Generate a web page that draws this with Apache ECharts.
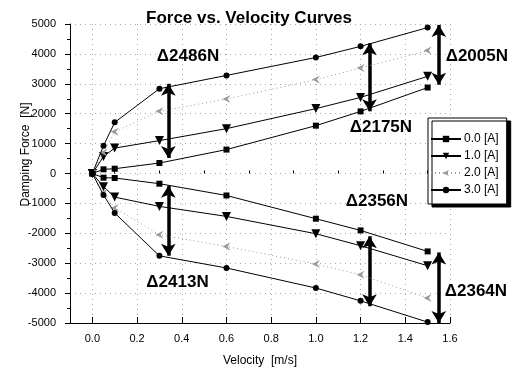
<!DOCTYPE html>
<html>
<head>
<meta charset="utf-8">
<script src="https://cdn.jsdelivr.net/npm/echarts@6/dist/echarts.min.js"></script>
<style>
  html, body { margin: 0; padding: 0; background: #fff; }
  #chart { width: 517px; height: 369px; }
</style>
</head>
<body>
<div id="chart"></div>
<script>
// Damper force measured at each piston velocity, for four coil currents.
const velocity = [0, 0.05, 0.1, 0.3, 0.6, 1.0, 1.2, 1.5];

// Extension (positive) branch, N
const ext00 = [0, 140, 160, 350, 800, 1600, 2077, 2875];
const ext10 = [0, 570, 850, 1100, 1500, 2170, 2545, 3250];
const ext20 = [0, 700, 1400, 2080, 2490, 3140, 3530, 4110];
const ext30 = [0, 930, 1710, 2836, 3280, 3880, 4252, 4880];

// Compression (negative) branch, N
const cmp00 = [0, -140, -150, -341, -735, -1512, -1904, -2606];
const cmp10 = [0, -440, -790, -1100, -1435, -2015, -2415, -3085];
const cmp20 = [0, -650, -1150, -2050, -2440, -3030, -3385, -4165];
const cmp30 = [0, -720, -1320, -2754, -3160, -3830, -4260, -4970];

const currentNames = ['0.0 [A]', '1.0 [A]', '2.0 [A]', '3.0 [A]'];

const xTicks = [0, 0.2, 0.4, 0.6, 0.8, 1.0, 1.2, 1.4, 1.6];
const xMinorTicks = [-0.1, 0.1, 0.3, 0.5, 0.7, 0.9, 1.1, 1.3, 1.5];

// Force spread between 3.0 A and 0.0 A: [velocity, from, to]
const spreadArrows = [
  [0.34, 3000, 520],
  [1.24, 4360, 2080],
  [1.55, 4970, 2970],
  [0.34, -410, -2750],
  [1.24, -2100, -4440],
  [1.55, -2640, -5000]
];
const spreadTexts = ['\u03942486N', '\u03942175N', '\u03942005N', '\u03942413N', '\u03942356N', '\u03942364N'];
// where each spread label sits, in axis units
const spreadTextAt = [
  [0.428, 3906],
  [1.291, 1532],
  [1.720, 3906],
  [0.381, -3652],
  [1.273, -943],
  [1.716, -3953]
];

const FONT = 'Liberation Sans, Arial, sans-serif';

function pairs(ys) { return velocity.map((v, i) => [v, ys[i]]); }

const GRAY = '#9a9a9a';
const styles = [
  { symbol: 'rect', symbolSize: 6, color: '#000', line: { color: '#000', width: 1, type: 'solid' } },
  { symbol: 'triangle', symbolSize: 9, rotate: 180, color: '#000', line: { color: '#000', width: 1, type: 'solid' } },
  { symbol: 'path://M10,0 L0,5 L10,10 L6.5,5 Z', symbolSize: 8, color: GRAY, line: { color: GRAY, width: 1, type: [1, 3] } },
  { symbol: 'circle', symbolSize: 6, color: '#000', line: { color: '#000', width: 1, type: 'solid' } }
];

const branches = [[ext00, cmp00], [ext10, cmp10], [ext20, cmp20], [ext30, cmp30]];
const series = [];
branches.forEach((pair, k) => {
  const st = styles[k];
  pair.forEach(ys => {
    series.push({
      name: currentNames[k],
      type: 'line',
      data: pairs(ys),
      symbol: st.symbol,
      symbolSize: st.symbolSize,
      symbolRotate: st.rotate || 0,
      showAllSymbol: true,
      clip: false,
      itemStyle: { color: st.color },
      lineStyle: st.line,
      z: 3 + k
    });
  });
});

series.push({
  name: 'spread',
  type: 'line',
  data: [],
  silent: true,
  clip: false,
  markLine: {
    silent: true,
    symbol: ['arrow', 'arrow'],
    symbolSize: [11, 12],
    label: { show: false },
    lineStyle: { color: '#000', width: 3.5, type: 'solid' },
    emphasis: { disabled: true },
    data: spreadArrows.map(a => [{ coord: [a[0], a[1]] }, { coord: [a[0], a[2]] }])
  },
  z: 10
});

const chart = echarts.init(document.getElementById('chart'), null, { renderer: 'canvas' });

chart.setOption({
  animation: false,
  backgroundColor: '#fff',
  textStyle: { fontFamily: FONT },
  title: {
    text: 'Force vs. Velocity Curves',
    left: 141,
    top: 5,
    textStyle: { fontFamily: FONT, fontSize: 17, fontWeight: 'bold', color: '#000' }
  },
  legend: {
    data: currentNames,
    orient: 'vertical',
    left: 428,
    top: 118,
    padding: [15, 8, 8, 2],
    itemGap: 5,
    itemWidth: 30,
    itemHeight: 8,
    backgroundColor: '#fff',
    borderColor: '#000',
    borderWidth: 1,
    borderRadius: 0,
    shadowColor: '#000',
    shadowBlur: 0,
    shadowOffsetX: 4,
    shadowOffsetY: 3,
    textStyle: { fontFamily: FONT, fontSize: 12, color: '#000', padding: [0, 0, 0, -2] }
  },
  grid: { left: 70, right: 67, top: 24, bottom: 46, outerBoundsMode: 'none', containLabel: false },
  xAxis: [
    {
      type: 'value',
      min: -0.1,
      max: 1.6,
      name: 'Velocity  [m/s]',
      nameLocation: 'middle',
      nameGap: 32,
      nameMoveOverlap: false,
      nameTextStyle: { fontFamily: FONT, fontSize: 12, color: '#000' },
      axisLine: { show: true, onZero: false, lineStyle: { color: '#000', width: 1 } },
      axisTick: { show: true, inside: true, length: 6, customValues: xTicks, lineStyle: { color: '#000' } },
      axisLabel: {
        customValues: xTicks,
        fontFamily: FONT, fontSize: 11, color: '#000', margin: 10,
        formatter: v => v.toFixed(1)
      },
      splitLine: { show: true, lineStyle: { color: '#aaa', type: [1, 4], width: 1 } }
    },
    {
      type: 'value',
      min: -0.1,
      max: 1.6,
      position: 'bottom',
      axisLine: { show: false },
      axisTick: { show: true, inside: true, length: 3, customValues: xMinorTicks, lineStyle: { color: '#000' } },
      axisLabel: { show: false },
      splitLine: { show: false }
    }
  ],
  yAxis: {
    type: 'value',
    min: -5000,
    max: 5000,
    interval: 1000,
    name: 'Damping Force  [N]',
    nameLocation: 'middle',
    nameGap: 38,
    nameMoveOverlap: false,
    nameTextStyle: { fontFamily: FONT, fontSize: 12, color: '#000', padding: [0, 0, 0, 38] },
    axisLine: { show: true, onZero: false, lineStyle: { color: '#000', width: 1 } },
    axisTick: { show: true, inside: false, length: 5, lineStyle: { color: '#000' } },
    minorTick: { show: true, splitNumber: 2, length: 3, lineStyle: { color: '#000' } },
    axisLabel: { fontFamily: FONT, fontSize: 11, color: '#000', margin: 14, formatter: v => String(v) },
    splitLine: { show: true, lineStyle: { color: '#aaa', type: [1, 4], width: 1 } }
  },
  series: series
});

// spread labels placed in axis units
chart.setOption({
  graphic: spreadTexts.map((t, i) => {
    const p = chart.convertToPixel({ xAxisIndex: 0, yAxisIndex: 0 }, spreadTextAt[i]);
    return {
      type: 'text',
      x: p[0],
      y: p[1],
      z: 20,
      style: {
        text: t,
        fontFamily: FONT,
        fontSize: 17,
        fontWeight: 'bold',
        fill: '#000',
        align: 'center',
        verticalAlign: 'middle'
      }
    };
  })
});
</script>
</body>
</html>
